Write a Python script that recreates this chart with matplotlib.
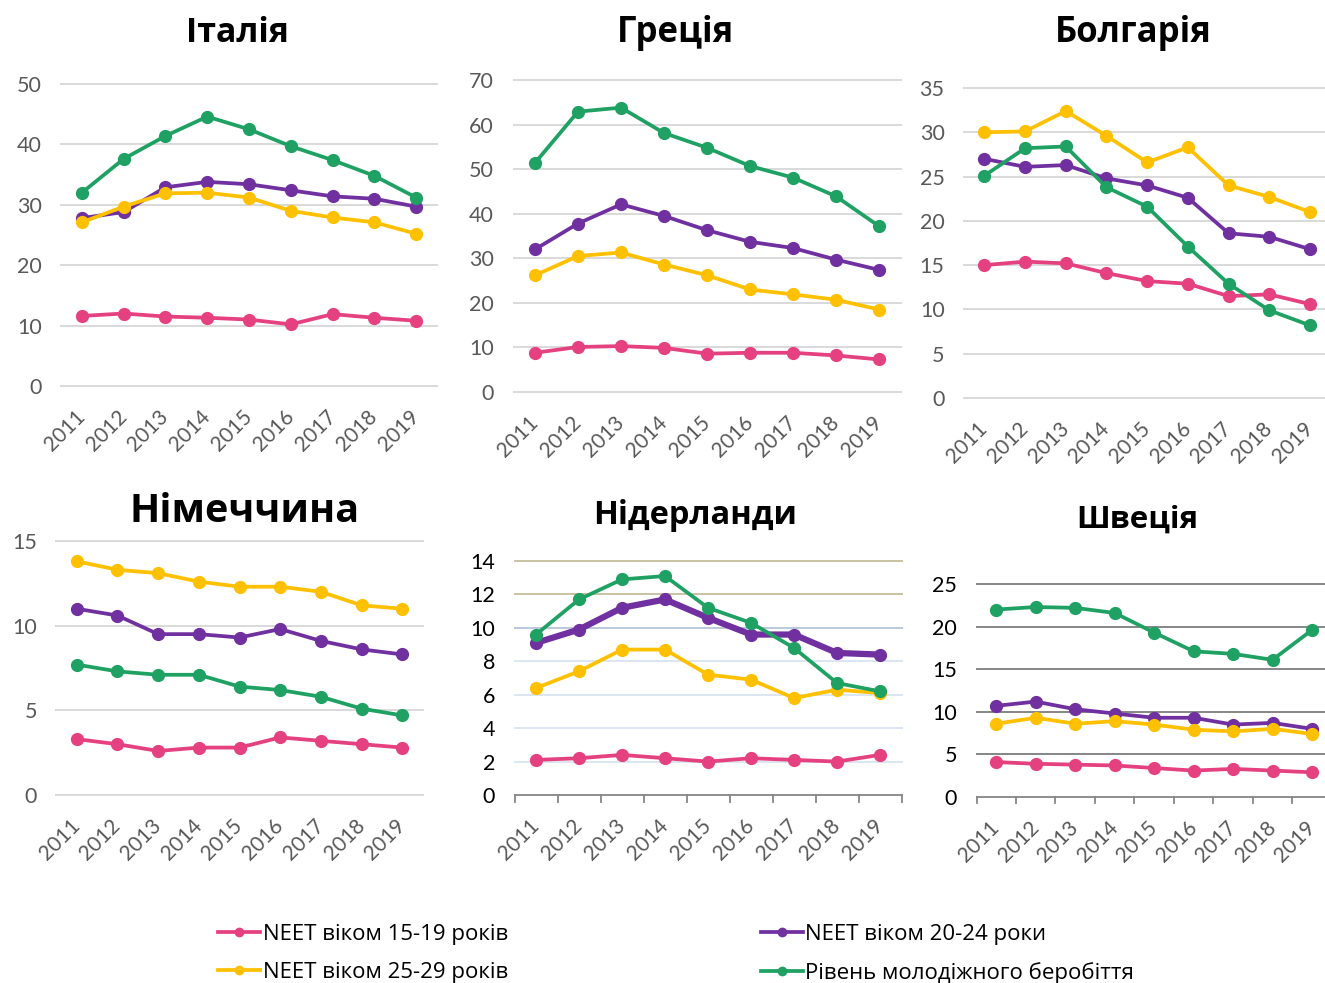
import numpy as np
import matplotlib
matplotlib.use("Agg")
from matplotlib import pyplot as plt
from matplotlib.lines import Line2D

years = ["2011", "2012", "2013", "2014", "2015", "2016", "2017", "2018", "2019"]

series_labels = ["NEET віком 15-19 років", "NEET віком 20-24 роки",
                 "NEET віком 25-29 років", "Рівень молодіжного беробіття"]
series_colors = ["#E5407F", "#7030A0", "#FFC000", "#1FA163"]

# Italy
italy_15_19 = [11.6, 12.0, 11.5, 11.3, 11.0, 10.2, 11.9, 11.3, 10.8]
italy_20_24 = [27.8, 28.8, 32.9, 33.8, 33.4, 32.4, 31.4, 31.0, 29.7]
italy_25_29 = [27.1, 29.7, 31.9, 32.0, 31.2, 29.0, 27.9, 27.1, 25.2]
italy_unemp = [32.0, 37.6, 41.4, 44.6, 42.5, 39.7, 37.4, 34.8, 31.2]

# Greece
greece_15_19 = [8.8, 10.1, 10.3, 9.9, 8.6, 8.8, 8.8, 8.2, 7.3]
greece_20_24 = [32.0, 37.8, 42.1, 39.5, 36.3, 33.7, 32.3, 29.7, 27.4]
greece_25_29 = [26.2, 30.5, 31.3, 28.6, 26.2, 23.0, 21.9, 20.7, 18.5]
greece_unemp = [51.4, 62.9, 63.8, 58.1, 54.8, 50.7, 48.1, 43.9, 37.2]

# Bulgaria
bulgaria_15_19 = [15.0, 15.4, 15.2, 14.1, 13.2, 12.9, 11.5, 11.7, 10.6]
bulgaria_20_24 = [27.0, 26.1, 26.3, 24.8, 24.0, 22.6, 18.6, 18.2, 16.8]
bulgaria_25_29 = [30.0, 30.1, 32.4, 29.6, 26.6, 28.3, 24.0, 22.7, 21.0]
bulgaria_unemp = [25.1, 28.2, 28.4, 23.8, 21.6, 17.1, 12.9, 9.9, 8.2]

# Germany
germany_15_19 = [3.3, 3.0, 2.6, 2.8, 2.8, 3.4, 3.2, 3.0, 2.8]
germany_20_24 = [11.0, 10.6, 9.5, 9.5, 9.3, 9.8, 9.1, 8.6, 8.3]
germany_25_29 = [13.8, 13.3, 13.1, 12.6, 12.3, 12.3, 12.0, 11.2, 11.0]
germany_unemp = [7.7, 7.3, 7.1, 7.1, 6.4, 6.2, 5.8, 5.1, 4.7]

# Netherlands
nl_15_19 = [2.1, 2.2, 2.4, 2.2, 2.0, 2.2, 2.1, 2.0, 2.4]
nl_20_24 = [9.1, 9.9, 11.2, 11.7, 10.6, 9.6, 9.6, 8.5, 8.4]
nl_25_29 = [6.4, 7.4, 8.7, 8.7, 7.2, 6.9, 5.8, 6.3, 6.1]
nl_unemp = [9.6, 11.7, 12.9, 13.1, 11.2, 10.3, 8.8, 6.7, 6.2]

# Sweden
sweden_15_19 = [4.1, 3.9, 3.8, 3.7, 3.4, 3.1, 3.3, 3.1, 2.9]
sweden_20_24 = [10.7, 11.2, 10.3, 9.8, 9.3, 9.3, 8.5, 8.7, 8.0]
sweden_25_29 = [8.6, 9.3, 8.6, 8.9, 8.5, 7.9, 7.7, 8.0, 7.4]
sweden_unemp = [22.0, 22.3, 22.2, 21.6, 19.3, 17.1, 16.8, 16.1, 19.6]

W, H = 1325, 983
fig = plt.figure(figsize=(W / 100, H / 100), dpi=100)


def px_axes(x0, x1, y_top, y_bot):
    return fig.add_axes([x0 / W, 1 - y_bot / H, (x1 - x0) / W, (y_bot - y_top) / H])


def draw_panel(ax, data, ymax, step, xmax=8.5, grid_colors=None, tick_color="#595959",
               axis_line=False, purple_lw=2.7):
    x = np.arange(len(years))
    ticks = np.arange(0, ymax + step / 2, step)
    if grid_colors is None:
        grid_colors = ["#D9D9D9"] * len(ticks)
    for t, c in zip(ticks, grid_colors):
        if t == 0 and axis_line:
            continue
        ax.axhline(t, color=c, lw=1.4, zorder=0, clip_on=False)
    # draw order: pink, yellow, purple, green
    for i in [0, 2, 1, 3]:
        lw = purple_lw if i == 1 else 2.7
        ax.plot(x, data[i], color=series_colors[i], lw=lw, marker="o", ms=8.5,
                solid_capstyle="round", clip_on=False, zorder=3 + i)
    ax.set_xlim(-0.5, xmax)
    ax.set_ylim(0, ymax)
    ax.set_yticks(ticks)
    ax.set_yticklabels([f"{t:g}" for t in ticks])
    ax.set_xticks(x)
    ax.set_xticklabels(years, rotation=45, ha="right", va="center", rotation_mode="anchor")
    for s in ax.spines.values():
        s.set_visible(False)
    ax.tick_params(axis="y", length=0, pad=14, labelsize=15.5, labelcolor=tick_color)
    ax.tick_params(axis="x", length=0, pad=20, labelsize=15, labelcolor="#595959")
    if axis_line:
        ax.spines["bottom"].set_visible(True)
        ax.spines["bottom"].set_color("#868686")
        ax.spines["bottom"].set_linewidth(1.3)
        for b in np.arange(-0.5, len(years), 1.0):
            ax.plot([b, b], [0, -0.03], transform=ax.get_xaxis_transform(),
                    color="#868686", lw=1.3, clip_on=False)
    ax.set_facecolor("none")
    for lab in ax.get_xticklabels() + ax.get_yticklabels():
        lab.set_fontfamily(["Lato", "DejaVu Sans"])


ax1 = px_axes(61, 437, 84, 386)
draw_panel(ax1, [italy_15_19, italy_20_24, italy_25_29, italy_unemp], 50, 10)
ax2 = px_axes(513.5, 900.5, 80, 392)
draw_panel(ax2, [greece_15_19, greece_20_24, greece_25_29, greece_unemp], 70, 10)
ax3 = px_axes(964, 1325, 88, 398)
draw_panel(ax3, [bulgaria_15_19, bulgaria_20_24, bulgaria_25_29, bulgaria_unemp], 35, 5,
           xmax=8.37)
ax4 = px_axes(56.4, 422.6, 541, 795)
draw_panel(ax4, [germany_15_19, germany_20_24, germany_25_29, germany_unemp], 15, 5)
ax5 = px_axes(514.5, 901.5, 561, 795)
draw_panel(ax5, [nl_15_19, nl_20_24, nl_25_29, nl_unemp], 14, 2,
           grid_colors=["#868686", "#DCE6F2", "#DCE6F2", "#DCE6F2", "#DCE6F2",
                        "#B9C9DA", "#C9C3A3", "#C9C3A3"],
           tick_color="black", axis_line=True, purple_lw=4.5)
ax6 = px_axes(976.5, 1325, 584, 797)
draw_panel(ax6, [sweden_15_19, sweden_20_24, sweden_25_29, sweden_unemp], 25, 5,
           xmax=8.33, grid_colors=["#868686"] * 6, tick_color="black", axis_line=True)

titles = [("Італія", 237, 33, 24.5), ("Греція", 675, 33, 25), ("Болгарія", 1133, 33, 25),
          ("Німеччина", 245, 512, 28.5), ("Нідерланди", 695, 516, 23.5),
          ("Швеція", 1137, 520, 22.5)]
for text, cx, cy, size in titles:
    fig.text(cx / W, 1 - cy / H, text, ha="center", va="center", fontsize=size,
             fontweight="bold", family=["Open Sans", "DejaVu Sans"])

handles = [Line2D([], [], color=series_colors[i], lw=2.7, marker="o", ms=6)
           for i in [0, 2, 1, 3]]
labels = [series_labels[i] for i in [0, 2, 1, 3]]
fig.legend(handles, labels, ncol=2, loc="upper left", bbox_to_anchor=(218 / W, 1 - 924 / H),
           frameon=False, borderpad=0, borderaxespad=0, handlelength=1.9,
           handletextpad=0.12, labelspacing=0.77, columnspacing=11.36,
           prop={"family": ["Open Sans", "DejaVu Sans"], "size": 16})

fig.savefig("out.png", dpi=100, facecolor="white")
